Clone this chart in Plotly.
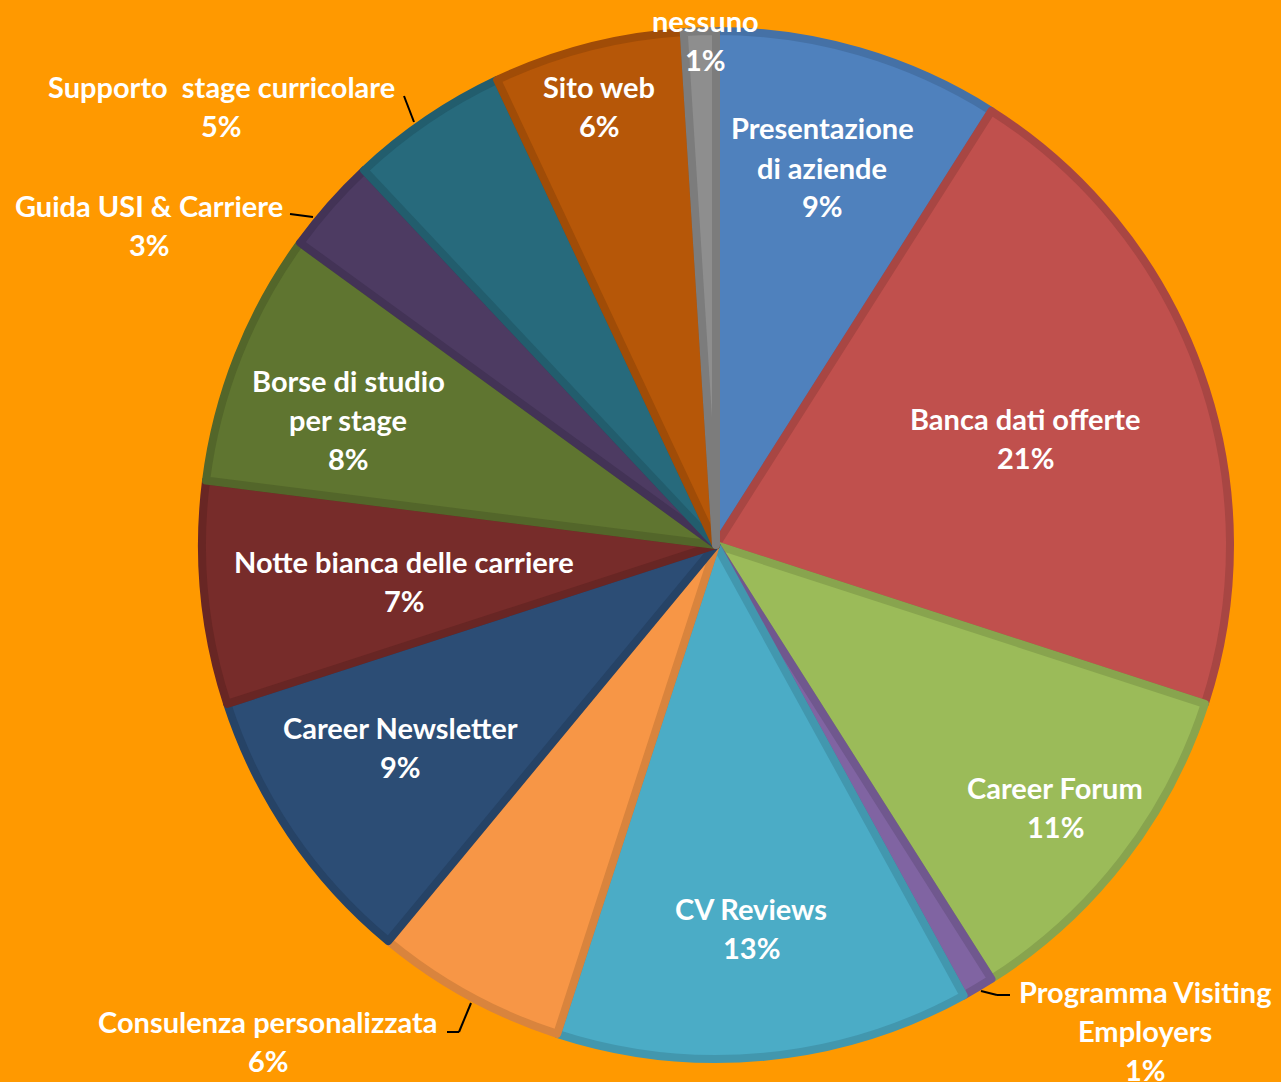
import plotly.graph_objects as go

# Services rated by respondents (share of answers, %), clockwise from 12 o'clock
labels = [
    "Presentazione<br>di aziende",
    "Banca dati offerte",
    "Career Forum",
    "Programma Visiting<br>Employers",
    "CV Reviews",
    "Consulenza personalizzata",
    "Career Newsletter",
    "Notte bianca delle carriere",
    "Borse di studio<br>per stage",
    "Guida USI & Carriere",
    "Supporto  stage curricolare",
    "Sito web",
    "nessuno",
]
values = [9, 21, 11, 1, 13, 6, 9, 7, 8, 3, 5, 6, 1]

fills = ["#4F81BD", "#C0504D", "#9BBB59", "#8064A2", "#4BACC6", "#F79646",
         "#2C4D75", "#772C2A", "#5F7530", "#4D3B62", "#276A7C", "#B65708",
         "#8E8E8E"]


def darker(hex_color, f=0.9):
    h = hex_color.lstrip("#")
    r, g, b = (int(h[i:i + 2], 16) for i in (0, 2, 4))
    return "#{:02X}{:02X}{:02X}".format(int(r * f), int(g * f), int(b * f))


borders = [darker(c, 0.88) for c in fills]

W, H = 1281, 1082
BG = "#FF9900"
CX, CY, R = 716, 545, 518
LINE_W = 8
r_in = R - LINE_W / 2

fig = go.Figure(go.Pie(
    labels=[l.replace("<br>", " ") for l in labels],
    values=values,
    sort=False,
    direction="clockwise",
    rotation=0,
    textinfo="none",
    hoverinfo="label+percent",
    marker=dict(colors=fills, line=dict(color=borders, width=LINE_W)),
    domain=dict(x=[(CX - r_in) / W, (CX + r_in) / W],
                y=[(H - CY - r_in) / H, (H - CY + r_in) / H]),
    showlegend=False,
))

# Label anchor (centre of first text line, in pixels) and line pitch
label_pos = [
    (822, 128), (1025, 418), (1055, 787), (1145, 991), (751, 908),
    (268, 1021), (400, 727), (404, 561), (348, 380), (149, 206),
    (221, 86), (599, 86), (706, 20),
]
PITCH = 39
FONT = dict(family="Lato", size=29, color="white", weight="bold")

total = sum(values)
annotations = []
for lab, val, (px, py) in zip(labels, values, label_pos):
    lines = lab.split("<br>") + ["{:.0f}%".format(val / total * 100)]
    for i, line in enumerate(lines):
        annotations.append(dict(
            x=px / W, y=1 - (py + i * PITCH) / H, xref="paper", yref="paper",
            text=line.replace("  ", "\u00a0 "), showarrow=False,
            xanchor="center", yanchor="middle", font=FONT,
        ))

# Leader lines for the labels placed outside the pie (pixel polylines)
leaders = [
    [(404, 96), (414, 122)],
    [(290, 214), (313, 217)],
    [(447, 1032), (459, 1032), (471, 1003)],
    [(981, 991), (997, 995), (1010, 995)],
]
shapes = []
for pts in leaders:
    for (x0, y0), (x1, y1) in zip(pts[:-1], pts[1:]):
        shapes.append(dict(type="line", xref="paper", yref="paper",
                           x0=x0 / W, y0=1 - y0 / H, x1=x1 / W, y1=1 - y1 / H,
                           line=dict(color="black", width=2)))

fig.update_layout(
    width=W, height=H,
    margin=dict(l=0, r=0, t=0, b=0),
    paper_bgcolor=BG, plot_bgcolor=BG,
    annotations=annotations, shapes=shapes,
)

fig.write_html("out.html")
